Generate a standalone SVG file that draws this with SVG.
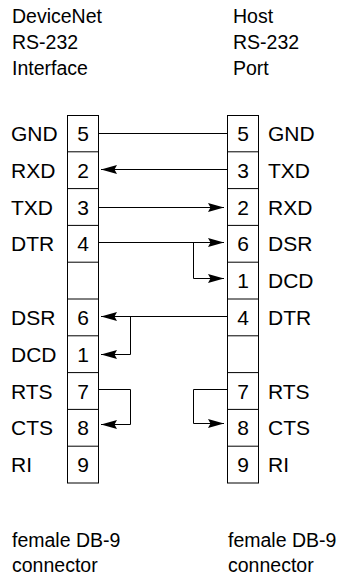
<svg xmlns="http://www.w3.org/2000/svg" width="339" height="575" viewBox="0 0 339 575">
<style>
text{font-family:"Liberation Sans",Arial,sans-serif;fill:#000}
.hd{font-size:19.5px}
.lb{font-size:21px}
.nm{font-size:21px;text-anchor:middle}
.box{fill:none;stroke:#000;stroke-width:1}
.ln{fill:none;stroke:#000;stroke-width:1}
</style>
<defs>
<marker id="ah" markerUnits="userSpaceOnUse" markerWidth="18" markerHeight="11" refX="16" refY="5.5" orient="auto" viewBox="0 0 18 11">
<path d="M16,5.5 L0,1 L2.5,5.5 L0,10 Z" fill="#000"/>
</marker>
</defs>
<g id="header">
<text class="hd" x="12" y="23">DeviceNet</text>
<text class="hd" x="12" y="49">RS-232</text>
<text class="hd" x="12" y="75">Interface</text>
<text class="hd" x="233" y="23">Host</text>
<text class="hd" x="233" y="49">RS-232</text>
<text class="hd" x="233" y="75">Port</text>
</g>
<g id="left-connector">
<rect class="box" x="67.5" y="115.5" width="31" height="367.5"/>
<path class="ln" d="M67.5,151.8H98.5M67.5,188.6H98.5M67.5,225.4H98.5M67.5,262.2H98.5M67.5,299H98.5M67.5,335.8H98.5M67.5,372.6H98.5M67.5,409.4H98.5M67.5,446.2H98.5"/>
<text class="nm" x="83" y="141">5</text>
<text class="nm" x="83" y="177.8">2</text>
<text class="nm" x="83" y="214.6">3</text>
<text class="nm" x="83" y="251.4">4</text>
<text class="nm" x="83" y="325">6</text>
<text class="nm" x="83" y="361.8">1</text>
<text class="nm" x="83" y="398.6">7</text>
<text class="nm" x="83" y="435.4">8</text>
<text class="nm" x="83" y="472.2">9</text>
<text class="lb" x="11" y="141">GND</text>
<text class="lb" x="11" y="177.8">RXD</text>
<text class="lb" x="11" y="214.6">TXD</text>
<text class="lb" x="11" y="251.4">DTR</text>
<text class="lb" x="11" y="325">DSR</text>
<text class="lb" x="11" y="361.8">DCD</text>
<text class="lb" x="11" y="398.6">RTS</text>
<text class="lb" x="11" y="435.4">CTS</text>
<text class="lb" x="11" y="472.2">RI</text>
</g>
<g id="right-connector">
<rect class="box" x="227.5" y="115.5" width="31" height="367.5"/>
<path class="ln" d="M227.5,151.8H258.5M227.5,188.6H258.5M227.5,225.4H258.5M227.5,262.2H258.5M227.5,299H258.5M227.5,335.8H258.5M227.5,372.6H258.5M227.5,409.4H258.5M227.5,446.2H258.5"/>
<text class="nm" x="243" y="141">5</text>
<text class="nm" x="243" y="177.8">3</text>
<text class="nm" x="243" y="214.6">2</text>
<text class="nm" x="243" y="251.4">6</text>
<text class="nm" x="243" y="288.2">1</text>
<text class="nm" x="243" y="325">4</text>
<text class="nm" x="243" y="398.6">7</text>
<text class="nm" x="243" y="435.4">8</text>
<text class="nm" x="243" y="472.2">9</text>
<text class="lb" x="268" y="141">GND</text>
<text class="lb" x="268" y="177.8">TXD</text>
<text class="lb" x="268" y="214.6">RXD</text>
<text class="lb" x="268" y="251.4">DSR</text>
<text class="lb" x="268" y="288.2">DCD</text>
<text class="lb" x="268" y="325">DTR</text>
<text class="lb" x="268" y="398.6">RTS</text>
<text class="lb" x="268" y="435.4">CTS</text>
<text class="lb" x="268" y="472.2">RI</text>
</g>
<g id="connectors">
<path class="ln" d="M99,133.5H227"/>
<path class="ln" d="M227,169.5H101" marker-end="url(#ah)"/>
<path class="ln" d="M99,207.5H224" marker-end="url(#ah)"/>
<path class="ln" d="M99,242.5H224" marker-end="url(#ah)"/>
<path class="ln" d="M193.5,242.5V278.5H224" marker-end="url(#ah)"/>
<path class="ln" d="M227,316.5H101" marker-end="url(#ah)"/>
<path class="ln" d="M130.5,316.5V354.5H101" marker-end="url(#ah)"/>
<path class="ln" d="M99,389.5H130.5V424.5H101" marker-end="url(#ah)"/>
<path class="ln" d="M227,389.5H193.5V423.5H224" marker-end="url(#ah)"/>
</g>
<g id="footer">
<text class="hd" x="12" y="547">female DB-9</text>
<text class="hd" x="12" y="572">connector</text>
<text class="hd" x="228" y="547">female DB-9</text>
<text class="hd" x="228" y="572">connector</text>
</g>
</svg>
